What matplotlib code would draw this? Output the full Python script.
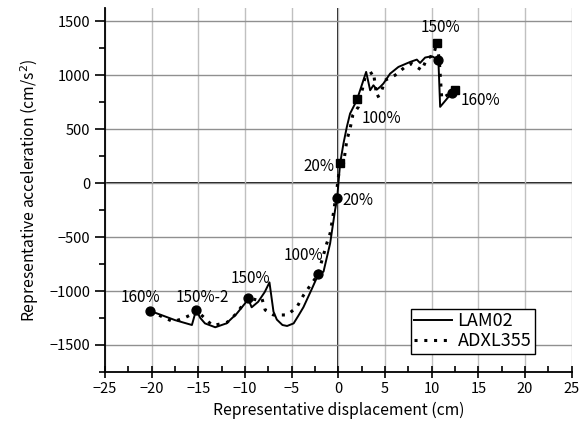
import numpy as np
import matplotlib.pyplot as plt
from matplotlib.ticker import MultipleLocator

plt.rcParams['font.family'] = ['Noto Sans CJK JP', 'DejaVu Sans']

# LAM02 (solid)
lam_x = [-20.15, -17.5, -15.7, -15.25, -14.8, -14.3, -13.2, -12.0, -10.9, -10.0, -9.71,
         -9.3, -8.6, -7.9, -7.39, -6.96, -6.6, -6.0, -5.5, -4.8, -4.3, -3.75, -2.9,
         -2.14, -1.6, -0.89, -0.36, -0.14, 0.0, 0.18, 0.54, 0.9, 1.25, 1.97, 2.97, 3.4,
         3.75, 4.11, 4.47, 4.82, 5.54, 6.43, 7.68, 8.4, 8.75, 9.29, 10.0, 10.71, 10.9, 12.15]
lam_y = [-1185, -1270, -1315, -1176, -1250, -1300, -1336, -1300, -1210, -1114, -1062,
         -1151, -1100, -1010, -920, -1191, -1265, -1315, -1324, -1300, -1230, -1150, -990,
         -843, -821, -559, -250, -142, 0, 182, 367, 521, 645, 768, 1031, 861,
         907, 867, 892, 923, 1015, 1077, 1123, 1145, 1114, 1164, 1176, 1145, 707, 836]

# ADXL355 (dotted)
adx_x = [-20.15, -18.9, -17.7, -16.6, -15.5, -15.25, -13.5, -11.96, -10.9, -9.71, -8.75,
         -8.2, -7.85, -6.96, -5.5, -4.46, -3.75, -2.86, -2.14, -1.96, -1.25, -0.89, -0.54,
         -0.2, 0.18, 0.5, 0.9, 1.25, 1.54, 2.14, 2.86, 3.75, 4.11, 4.47, 5.0, 6.07, 7.14,
         7.86, 8.93, 9.47, 10.18, 10.54, 10.8, 11.07, 12.5]
adx_y = [-1185, -1238, -1284, -1253, -1207, -1176, -1320, -1293, -1207, -1062, -1083,
         -1068, -1176, -1222, -1222, -1151, -1040, -929, -843, -775, -559, -466, -281,
         -80, 182, 151, 398, 506, 630, 707, 984, 1031, 799, 815, 954, 1000, 1077,
         1108, 1046, 1154, 1185, 1299, 1150, 784, 861]

# peak markers
circle_x = [-20.15, -15.25, -9.71, -2.14, -0.14, 10.71, 12.15]
circle_y = [-1185, -1176, -1062, -843, -142, 1145, 836]
square_x = [0.18, 1.97, 10.54, 12.5]
square_y = [182, 778, 1299, 861]

labels = ['160%', '150%-2', '150%', '100%', '20%', '20%', '100%', '150%', '160%']
label_x = [-21.2, -14.55, -9.46, -3.75, -2.07, 2.06, 4.65, 10.95, 15.27]
label_y = [-1058, -1058, -882, -667, 157, -157, 599, 1441, 768]

fig = plt.figure(figsize=(5.84, 4.28), dpi=100)
ax = fig.add_axes([0.18, 0.131, 0.799, 0.85])

ax.xaxis.grid(True, which='major', color='#c0c0c0', lw=1.0, zorder=0)
ax.yaxis.grid(True, which='major', color='#909090', lw=1.0, zorder=0)
ax.axhline(0, color='black', lw=1.3, zorder=1)
ax.axvline(0, color='black', lw=1.3, zorder=1)

ax.plot(lam_x, lam_y, color='black', lw=1.4, label='LAM02', zorder=3)
ax.plot(adx_x, adx_y, color='black', lw=2.2, ls=(0, (1, 2.2)), label='ADXL355', zorder=3)
ax.plot(circle_x, circle_y, 'o', color='black', ms=6.4, zorder=4)
ax.plot(square_x, square_y, 's', color='black', ms=6.0, zorder=4)

for t, x, y in zip(labels, label_x, label_y):
    ax.text(x, y, t, ha='center', va='center', fontsize=11, zorder=5)

ax.set_xlim(-25, 25)
ax.set_ylim(-1750, 1622)
ax.xaxis.set_major_locator(MultipleLocator(5))
ax.xaxis.set_minor_locator(MultipleLocator(2.5))
ax.yaxis.set_major_locator(MultipleLocator(500))
ax.yaxis.set_minor_locator(MultipleLocator(250))
ax.tick_params(axis='x', which='major', direction='inout', length=8, width=1.2, labelsize=10.5)
ax.tick_params(axis='x', which='minor', direction='in', length=4, width=1.2)
ax.tick_params(axis='y', which='major', direction='out', length=7, width=1.2, labelsize=10.5)
ax.tick_params(axis='y', which='minor', direction='out', length=4, width=1.2)
for s in ['top', 'right']:
    ax.spines[s].set_visible(False)
for s in ['left', 'bottom']:
    ax.spines[s].set_linewidth(1.3)

ax.set_xlabel('Representative displacement (cm)', fontsize=11.3, labelpad=4)
ax.set_ylabel('Representative acceleration (cm/s$^2$)', fontsize=11.3, labelpad=6)

leg = ax.legend(loc='lower right', bbox_to_anchor=(0.921, 0.05), fontsize=13,
                frameon=True, fancybox=False, edgecolor='black', framealpha=1,
                handlelength=2.1, borderpad=0.2, labelspacing=0.1, handletextpad=0.3,
                borderaxespad=0)
leg.get_frame().set_linewidth(1.0)

fig.savefig('out.png', dpi=100)
